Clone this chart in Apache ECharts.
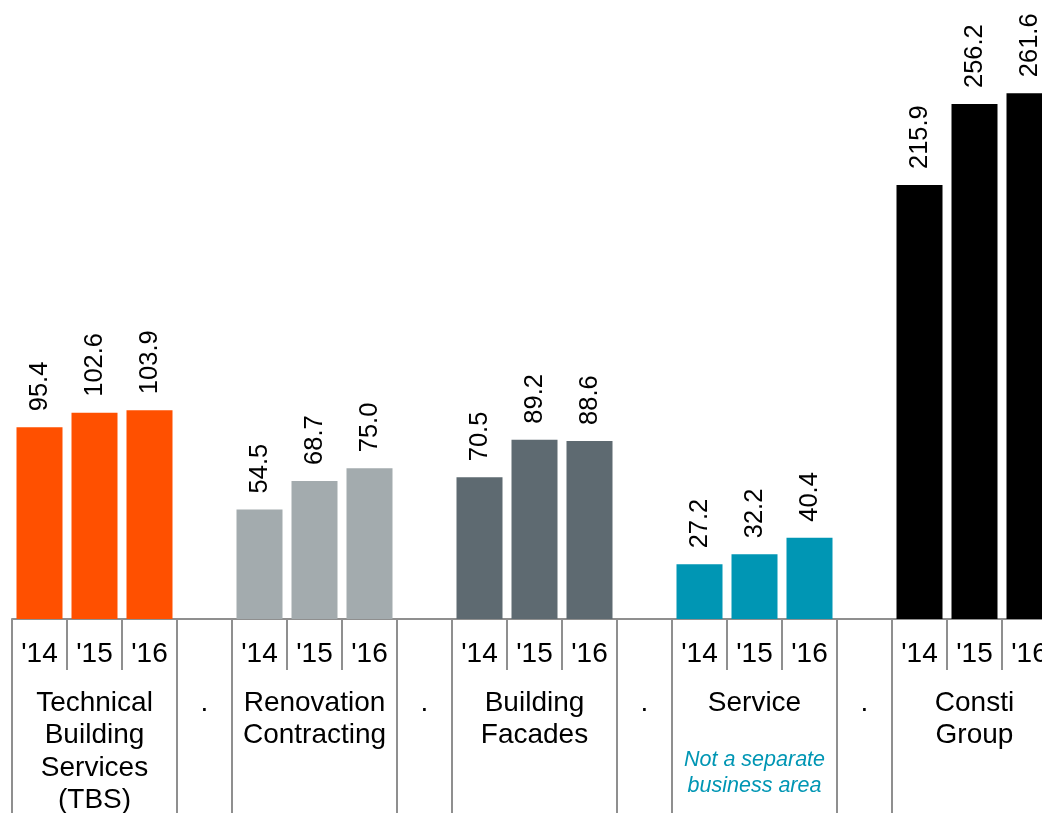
<!DOCTYPE html>
<html>
<head>
<meta charset="utf-8">
<title>Net sales by business area</title>
<script src="https://cdn.jsdelivr.net/npm/echarts@6/dist/echarts.min.js"></script>
<style>
  html, body { margin: 0; padding: 0; background: #ffffff; }
  #chart { width: 1042px; height: 813px; }
</style>
</head>
<body>
<div id="chart"></div>
<script>
// Net sales per business area, 2014-2016 (EUR million)
const years = ["'14", "'15", "'16"];
const groups = ['Technical\nBuilding\nServices\n(TBS)', 'Renovation\nContracting', 'Building\nFacades', 'Service', 'Consti\nGroup'];
const tbsValues = [95.4, 102.6, 103.9];
const renovationValues = [54.5, 68.7, 75.0];
const facadesValues = [70.5, 89.2, 88.6];
const serviceValues = [27.2, 32.2, 40.4];
const groupValues = [215.9, 256.2, 261.6];
const groupColors = ['#ff5000', '#a3abae', '#5e6a71', '#0096b4', '#000000'];
const serviceNote = 'Not a separate\nbusiness area';

const allValues = [tbsValues, renovationValues, facadesValues, serviceValues, groupValues];

// One slot per year, plus one empty separator slot between groups
const yearSlots = [];
const groupSlots = [];
const barData = [];
const groupEdges = [];
allValues.forEach(function (vals, g) {
  if (g > 0) {
    groupEdges.push(yearSlots.length);
    yearSlots.push('');
    groupSlots.push('.');
    barData.push('-');
  }
  groupEdges.push(yearSlots.length);
  vals.forEach(function (v, i) {
    yearSlots.push(years[i]);
    groupSlots.push(i === 1 ? groups[g] : '');
    barData.push({ value: v, itemStyle: { color: groupColors[g] } });
  });
});

const fontFamily = '"Liberation Sans", Arial, Helvetica, sans-serif';
const lineColor = '#8f8f8f';

const chart = echarts.init(document.getElementById('chart'), null, { renderer: 'canvas' });
chart.setOption({
  backgroundColor: '#ffffff',
  animation: false,
  grid: { left: 12, top: 16, width: 1045, height: 603, containLabel: false, outerBoundsMode: 'none' },
  xAxis: [
    {
      type: 'category',
      data: yearSlots,
      position: 'bottom',
      axisLine: { show: true, lineStyle: { color: lineColor, width: 2 } },
      axisTick: { show: true, interval: 0, length: 51, lineStyle: { color: lineColor, width: 2 } },
      axisLabel: { interval: 0, margin: 21, fontSize: 28, color: '#000', fontFamily: fontFamily }
    },
    {
      type: 'category',
      data: groupSlots,
      position: 'bottom',
      axisLine: { show: false },
      axisTick: {
        show: true,
        length: 200,
        interval: function (index) { return groupEdges.indexOf(index) !== -1; },
        lineStyle: { color: lineColor, width: 2 }
      },
      axisLabel: {
        interval: 0,
        margin: 68,
        fontSize: 28,
        lineHeight: 32.5,
        color: '#000',
        fontFamily: fontFamily,
        align: 'center',
        formatter: function (v) {
          if (v === 'Service') {
            return 'Service\n{gap|}\n{note|' + serviceNote.split('\n').join('}\n{note|') + '}';
          }
          return v;
        },
        rich: {
          gap: { height: 28, lineHeight: 28, fontSize: 10 },
          note: { fontSize: 21.5, lineHeight: 26, fontStyle: 'italic', color: '#0096b4', fontFamily: fontFamily }
        }
      }
    }
  ],
  yAxis: {
    type: 'value',
    min: 0,
    max: 300,
    show: false,
    splitLine: { show: false }
  },
  series: [
    {
      type: 'bar',
      xAxisIndex: 0,
      data: barData,
      barWidth: 46,
      label: {
        show: true,
        position: 'top',
        rotate: 90,
        align: 'left',
        verticalAlign: 'middle',
        distance: 16,
        fontSize: 25.5,
        color: '#000',
        fontFamily: fontFamily,
        formatter: function (p) { return p.value.toFixed(1); }
      }
    }
  ]
});
</script>
</body>
</html>
